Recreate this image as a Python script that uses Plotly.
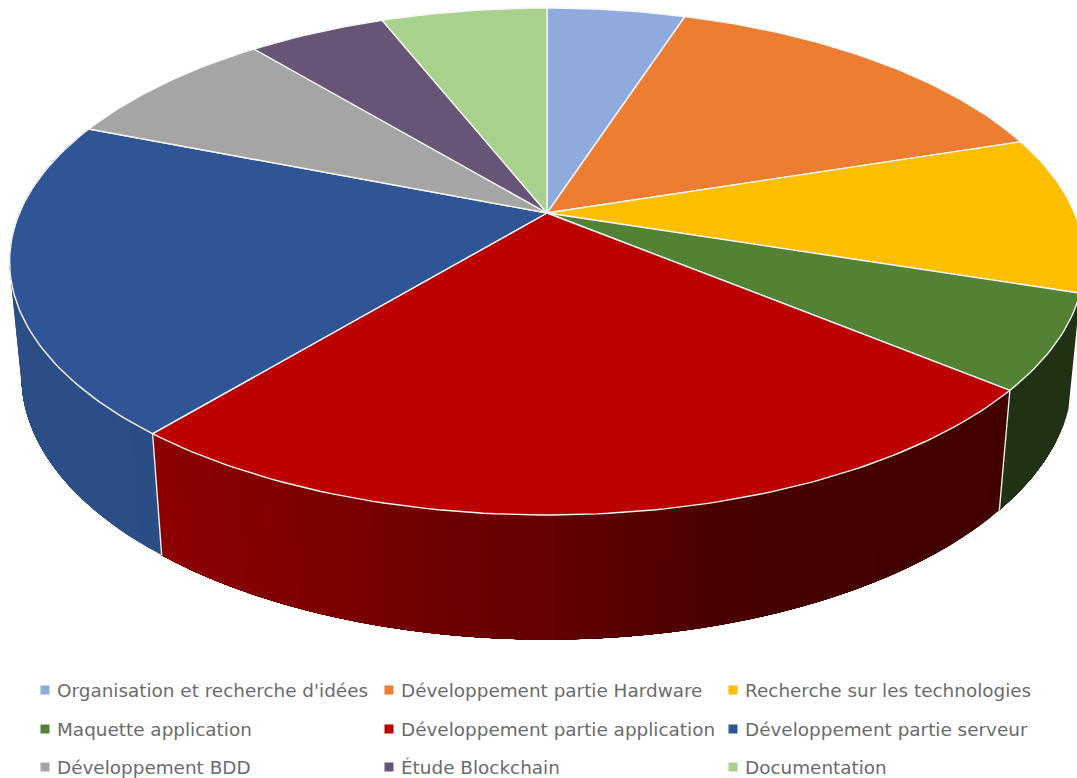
import numpy as np
import plotly.graph_objects as go

# Task breakdown, in percent of project time
categories = [
    "Organisation et recherche d'idées", "Développement partie Hardware",
    "Recherche sur les technologies", "Maquette application",
    "Développement partie application", "Développement partie serveur",
    "Développement BDD", "Étude Blockchain", "Documentation",
]
shares = [5, 15, 10, 6, 25, 20, 8, 5, 6]
top_colors = ["#8FAADC", "#ED7D31", "#FBBF00", "#548235", "#BC0000",
              "#2F5597", "#A5A5A5", "#675576", "#A9D18E"]
# Side-wall colour at the left and right ends of the drum
wall_left = {3: (34, 55, 22), 4: (148, 0, 0), 5: (44, 78, 135)}
wall_right = {3: (32, 50, 19), 4: (66, 0, 0), 5: (36, 65, 113)}
# Light falloff across the drum, from screen x to blend fraction
shade_x = [10, 150, 550, 750, 1000]
shade_f = [0.0, 0.07, 0.585, 0.93, 1.0]

# Perspective model of the drum: top and bottom discs
TOP = dict(cx=547.0, cy=213.0, a=527.5, b=244.2, k=0.1913)
BOTTOM = dict(cx=547.0, cy=326.0, a=516.0, b=254.0, k=0.19)


def project(theta, disc):
    """Screen position of a rim point; theta runs clockwise from the back."""
    u, v = np.sin(theta), np.cos(theta)
    w = 1 + disc["k"] * v
    return disc["cx"] + disc["a"] * u / w, disc["cy"] - disc["b"] * v / w


edges = np.radians(np.cumsum([0] + shares) * 3.6)
fig = go.Figure()


def polygon(x, y, fill, line, width):
    fig.add_trace(go.Scatter(
        x=x, y=y, mode="lines", fill="toself", fillcolor=fill,
        line=dict(color=line, width=width), hoverinfo="skip", showlegend=False,
    ))


# Side walls: each shaded strip runs on to the end of its section so the next
# strip paints over it and no seam shows between them
for i in wall_left:
    col_a, col_b = wall_left[i], wall_right[i]
    n = max(2, int(np.degrees(edges[i + 1] - edges[i]) / 1.5))
    steps = np.linspace(edges[i], edges[i + 1], n + 1)
    for t0 in steps[:-1]:
        t = np.linspace(t0, edges[i + 1], 40)
        xt, yt = project(t, TOP)
        xb, yb = project(t[::-1], BOTTOM)
        f = np.interp(project(t0, TOP)[0], shade_x, shade_f)
        rgb = [round(a + (b - a) * f) for a, b in zip(col_a, col_b)]
        c = f"rgb({rgb[0]},{rgb[1]},{rgb[2]})"
        polygon([*xt, *xb, xt[0]], [*yt, *yb, yt[0]], c, "rgba(0,0,0,0)", 0)

# White seams between neighbouring wall sections
for i in (4, 5):
    xa, ya = project(edges[i], TOP)
    xb, yb = project(edges[i], BOTTOM)
    fig.add_trace(go.Scatter(x=[xa, xb], y=[ya, yb], mode="lines",
                             line=dict(color="#EDEDED", width=1.4),
                             hoverinfo="skip", showlegend=False))

# Top face of every slice
for i, color in enumerate(top_colors):
    n = max(8, int(np.degrees(edges[i + 1] - edges[i])))
    t = np.linspace(edges[i], edges[i + 1], n + 1)
    rx, ry = project(t, TOP)
    x = [TOP["cx"], *rx, TOP["cx"]]
    y = [TOP["cy"], *ry, TOP["cy"]]
    polygon(x, y, color, "#F6F6F6", 1.4)

# Legend grid below the drum
legend_cols = [45, 389, 733]
legend_rows = [690, 729, 767]
for i, (name, color) in enumerate(zip(categories, top_colors)):
    lx = legend_cols[i % 3]
    ly = legend_rows[i // 3]
    fig.add_trace(go.Scatter(
        x=[lx], y=[ly], mode="markers",
        marker=dict(symbol="square", size=9, color=color),
        hoverinfo="skip", showlegend=False,
    ))
    fig.add_annotation(x=lx + 12, y=ly, text=name, showarrow=False,
                       xanchor="left", yanchor="middle",
                       font=dict(family="DejaVu Sans", size=18.4, color="#6B6B6B"),
                       borderpad=0, borderwidth=0)

fig.update_layout(
    width=1077, height=778, margin=dict(l=0, r=0, t=0, b=0),
    paper_bgcolor="white", plot_bgcolor="white",
    xaxis=dict(range=[0, 1077], visible=False, fixedrange=True),
    yaxis=dict(range=[778, 0], visible=False, fixedrange=True),
)
fig.write_html("out.html", config=dict(displayModeBar=False))
